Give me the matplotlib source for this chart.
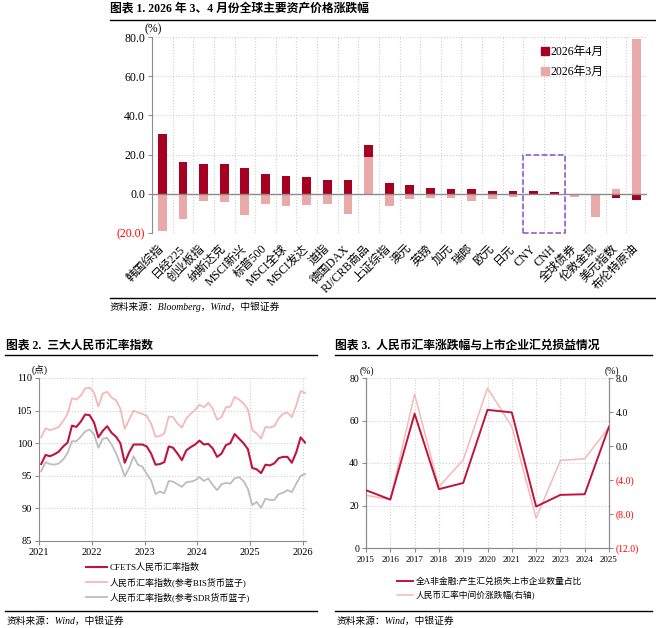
import matplotlib
matplotlib.use('Agg')
import matplotlib.pyplot as plt
from matplotlib.lines import Line2D
from matplotlib.patches import Rectangle
import numpy as np

plt.rcParams['font.family'] = ['Liberation Serif', 'Noto Sans CJK SC']
plt.rcParams['axes.unicode_minus'] = False

# ---------------- data ----------------
cats = ['韩国综指', '日经225', '创业板指', '纳斯达克', 'MSCI新兴', '标普500', 'MSCI全球',
        'MSCI发达', '道指', '德国DAX', 'RJ/CRB商品', '上证综指', '澳元', '英镑', '加元',
        '瑞郎', '欧元', '日元', 'CNY', 'CNH', '全球债券', '伦敦金现', '美元指数', '布伦特原油']
apr_2026 = [30.6, 16.1, 15.2, 15.0, 13.0, 10.3, 9.2, 8.5, 7.0, 7.0, 25.0, 5.6, 4.4, 2.9,
            2.4, 2.2, 1.5, 1.4, 1.2, 1.0, -0.3, -0.2, -1.9, -3.2]
mar_2026 = [-19.0, -13.0, -3.8, -4.4, -10.6, -5.0, -6.3, -5.8, -5.3, -10.1, 19.0, -6.3, -2.9,
            -1.9, -1.9, -3.8, -2.4, -1.5, -0.4, -0.3, -1.8, -11.8, 2.3, 79.0]
chart1_yticks = [-20, 0, 20, 40, 60, 80]

# monthly, Jan 2021 .. Jan 2026
cfets = [96.8, 98.2, 98.0, 98.3, 98.7, 99.5, 100.1, 102.7, 102.5, 103.3, 104.4, 104.3,
         103.2, 100.9, 101.9, 102.6, 101.6, 101.0, 100.0, 97.0, 98.6, 99.8, 99.8, 99.8,
         99.5, 98.4, 96.7, 96.8, 97.1, 99.5, 99.3, 98.4, 97.4, 98.9, 99.4, 99.8,
         100.4, 99.8, 99.9, 99.2, 97.9, 98.4, 99.7, 100.0, 101.4, 100.7, 100.0, 99.1,
         96.2, 96.0, 95.4, 96.7, 96.6, 96.9, 97.7, 97.9, 97.9, 97.0, 98.6, 100.9,
         100.1]
bis = [100.9, 102.3, 102.0, 102.2, 102.5, 103.4, 104.5, 106.9, 106.7, 107.3, 108.4, 108.5,
       107.8, 105.6, 107.6, 107.9, 107.0, 106.6, 105.3, 102.2, 103.6, 105.0, 104.7, 104.5,
       104.2, 103.0, 101.0, 101.1, 101.5, 104.1, 104.0, 103.0, 102.4, 103.8, 104.5, 105.1,
       105.9, 105.5, 106.2, 105.3, 103.6, 104.0, 105.5, 105.6, 107.1, 106.7, 106.1, 105.2,
       102.0, 101.5, 100.7, 102.5, 102.4, 102.6, 103.8, 104.5, 104.7, 104.0, 105.8, 108.0,
       107.7]
sdr = [95.7, 97.1, 96.8, 96.7, 96.9, 97.5, 98.5, 100.3, 100.3, 101.0, 101.8, 102.1,
       101.4, 99.3, 100.7, 100.8, 99.8, 98.5, 96.8, 94.9, 96.2, 98.0, 96.7, 96.4,
       95.3, 94.3, 92.2, 92.6, 92.3, 94.2, 94.1, 93.7, 93.3, 94.0, 94.1, 94.3,
       94.8, 94.2, 94.6, 93.6, 92.8, 93.7, 93.9, 93.8, 94.6, 94.8, 94.2, 93.0,
       90.5, 91.0, 90.1, 91.5, 91.3, 91.3, 92.2, 92.4, 92.8, 92.5, 93.8, 95.0,
       95.3]
chart2_years = [2021, 2022, 2023, 2024, 2025, 2026]

years3 = [2015, 2016, 2017, 2018, 2019, 2020, 2021, 2022, 2023, 2024, 2025]
loss_share = [27.2, 22.8, 63.2, 27.7, 30.6, 65.0, 63.8, 19.5, 25.0, 25.3, 57.1]
cny_change = [-5.8, -6.3, 6.1, -4.8, -1.65, 6.8, 2.3, -8.5, -1.7, -1.5, 2.2]

# ---------------- style ----------------
C_APR = '#A50021'
C_MAR = '#E8A9A8'
C_CFETS = '#C0143C'
C_BIS = '#F4B9B7'
C_SDR = '#BDBDBD'
C_GRID = '#CFCFCF'
C_SPINE = '#8C8C8C'
RED = '#FF0000'

W, H = 656, 628
fig = plt.figure(figsize=(W / 100, H / 100), dpi=100)


def fx(x):
    return x / W


def fy(y):
    return 1 - y / H


def hline(x0, x1, y, lw=1.0):
    fig.add_artist(Line2D([fx(x0), fx(x1)], [fy(y), fy(y)], transform=fig.transFigure,
                          color='black', lw=lw))


def paren(v, fmt):
    s = fmt.format(abs(v))
    return '(' + s + ')' if v < 0 else s


# ---------------- chart 1 ----------------
fig.text(fx(110), fy(9), '图表 1. 2026 年 3、4 月份全球主要资产价格涨跌幅', fontsize=8.5,
         fontweight='bold', va='center', ha='left')
hline(110, 656, 20)

ax1 = fig.add_axes([fx(152), fy(233), fx(647) - fx(152), fy(37) - fy(233)])
x = np.arange(len(cats))
ax1.bar(x, apr_2026, width=0.42, color=C_APR, zorder=2)
ax1.bar(x, mar_2026, width=0.42, color=C_MAR, zorder=3)
ax1.axhline(0, color=C_SPINE, lw=1.0, zorder=4)
ax1.set_xlim(-0.5, len(cats) - 0.5)
ax1.set_ylim(-20, 80)
ax1.set_yticks(chart1_yticks)
ax1.set_yticklabels([paren(v, '{:.1f}') for v in chart1_yticks], fontsize=8.5)
for lab, v in zip(ax1.get_yticklabels(), chart1_yticks):
    if v < 0:
        lab.set_color(RED)
ax1.set_xticks(x)
ax1.set_xticklabels(cats, rotation=45, ha='right', va='center', rotation_mode='anchor',
                    fontsize=8.5)
ax1.tick_params(axis='x', length=0, pad=10)
ax1.tick_params(axis='y', length=3, color=C_SPINE, pad=2)
ax1.set_xticks(np.arange(-0.5, len(cats), 1), minor=True)
ax1.tick_params(which='minor', length=0)
ax1.grid(which='minor', axis='x', ls=':', color=C_GRID, lw=0.8, zorder=0)
ax1.grid(which='major', axis='y', ls=':', color=C_GRID, lw=0.8, zorder=0)
for s in ['top', 'right', 'bottom']:
    ax1.spines[s].set_visible(False)
ax1.spines['left'].set_color(C_SPINE)
ax1.set_axisbelow(True)
ax1.add_patch(Rectangle((17.5, -20), 2, 40, fill=False, ls='--', lw=1.1,
                        edgecolor='#8A4FC8', zorder=5, clip_on=False))
fig.text(fx(153), fy(29), '(%)', fontsize=8.5, ha='center', va='center')
h1 = [Line2D([], [], marker='s', ls='none', color=C_APR, markersize=5.5),
      Line2D([], [], marker='s', ls='none', color=C_MAR, markersize=5.5)]
ax1.legend(h1, ['2026年4月', '2026年3月'], loc='upper left', frameon=False, fontsize=8.5,
           bbox_to_anchor=(fx(541), fy(46)), bbox_transform=fig.transFigure,
           handlelength=0.6, handletextpad=0.2, labelspacing=0.7, borderpad=0,
           borderaxespad=0)

fig.text(fx(110), fy(307), '资料来源：Bloomberg，Wind，中银证券', fontsize=7, style='italic',
         va='center', ha='left')
hline(110, 656, 298)

# ---------------- chart 2 ----------------
fig.text(fx(6), fy(346), '图表 2.  三大人民币汇率指数', fontsize=8.5, fontweight='bold',
         va='center', ha='left')
hline(5, 317, 355)

ax2 = fig.add_axes([fx(39), fy(541), fx(306) - fx(39), fy(378) - fy(541)])
t = np.array([2021 + (i + 0.5) / 12 for i in range(len(cfets))])
ax2.plot(t, bis, color=C_BIS, lw=1.3, zorder=3)
ax2.plot(t, sdr, color=C_SDR, lw=1.3, zorder=3)
ax2.plot(t, cfets, color=C_CFETS, lw=1.5, zorder=4)
ax2.set_xlim(2021, 2026.06)
ax2.set_ylim(85, 110)
ax2.set_yticks([85, 90, 95, 100, 105, 110])
ax2.set_xticks(chart2_years)
ax2.set_xticklabels([str(y) for y in chart2_years])
ax2.tick_params(labelsize=7.5, length=3, color=C_SPINE, pad=2)
ax2.grid(True, ls=':', color=C_GRID, lw=0.8)
for s in ['top', 'right']:
    ax2.spines[s].set_visible(False)
for s in ['left', 'bottom']:
    ax2.spines[s].set_color(C_SPINE)
fig.text(fx(40), fy(370), '(点)', fontsize=7, ha='center', va='center')
h2 = [Line2D([], [], color=C_CFETS, lw=1.5), Line2D([], [], color=C_BIS, lw=1.3),
      Line2D([], [], color=C_SDR, lw=1.3)]
ax2.legend(h2, ['CFETS人民币汇率指数', '人民币汇率指数(参考BIS货币篮子)',
                '人民币汇率指数(参考SDR货币篮子)'],
           loc='upper left', frameon=False, fontsize=6.5,
           bbox_to_anchor=(fx(86), fy(563)), bbox_transform=fig.transFigure,
           handlelength=2.3, handletextpad=0.3, labelspacing=0.55, borderpad=0,
           borderaxespad=0)
hline(5, 317, 611)
fig.text(fx(7), fy(621), '资料来源：Wind，中银证券', fontsize=7, style='italic',
         va='center', ha='left')

# ---------------- chart 3 ----------------
fig.text(fx(335), fy(346), '图表 3.  人民币汇率涨跌幅与上市企业汇兑损益情况', fontsize=8.5,
         fontweight='bold', va='center', ha='left')
hline(335, 652, 355)

ax3 = fig.add_axes([fx(366), fy(548), fx(609) - fx(366), fy(378) - fy(548)])
ax3.plot(years3, loss_share, color=C_CFETS, lw=1.4, zorder=4)
ax3.set_xlim(2015, 2025)
ax3.set_ylim(0, 80)
ax3.set_yticks([0, 20, 40, 60, 80])
ax3.set_xticks(years3)
ax3.set_xticklabels([str(y) for y in years3])
ax3.tick_params(axis='x', labelsize=6.5, length=3, color=C_SPINE, pad=3)
ax3.tick_params(axis='y', labelsize=7, length=3, color=C_SPINE, pad=2)
ax3.grid(True, ls=':', color=C_GRID, lw=0.8)
ax3.spines['top'].set_visible(False)
for s in ['left', 'bottom', 'right']:
    ax3.spines[s].set_color(C_SPINE)

ax3r = ax3.twinx()
ax3r.plot(years3, cny_change, color=C_BIS, lw=1.1, zorder=3)
ax3r.set_ylim(-12, 8)
r_ticks = [-12, -8, -4, 0, 4, 8]
ax3r.set_yticks(r_ticks)
ax3r.set_yticklabels([paren(v, '{:.1f}') for v in r_ticks])
for lab, v in zip(ax3r.get_yticklabels(), r_ticks):
    if v < 0:
        lab.set_color(RED)
ax3r.tick_params(axis='y', labelsize=7, length=3, color=C_SPINE, pad=2)
ax3r.spines['top'].set_visible(False)
for s in ['left', 'bottom', 'right']:
    ax3r.spines[s].set_color(C_SPINE)
ax3.set_zorder(ax3r.get_zorder() + 1)
ax3.patch.set_visible(False)

fig.text(fx(367), fy(371), '(%)', fontsize=7, ha='center', va='center')
fig.text(fx(612), fy(371), '(%)', fontsize=7, ha='center', va='center')
h3 = [Line2D([], [], color=C_CFETS, lw=1.4), Line2D([], [], color=C_BIS, lw=1.1)]
ax3.legend(h3, ['全A非金融:产生汇兑损失上市企业数量占比', '人民币汇率中间价涨跌幅(右轴)'],
           loc='upper left', frameon=False, fontsize=6.3,
           bbox_to_anchor=(fx(397), fy(577)), bbox_transform=fig.transFigure,
           handlelength=1.8, handletextpad=0.35, labelspacing=0.6, borderpad=0,
           borderaxespad=0)
hline(335, 652, 611)
fig.text(fx(337), fy(621), '资料来源：Wind，中银证券', fontsize=7, style='italic',
         va='center', ha='left')

fig.savefig('out.png', dpi=100)
